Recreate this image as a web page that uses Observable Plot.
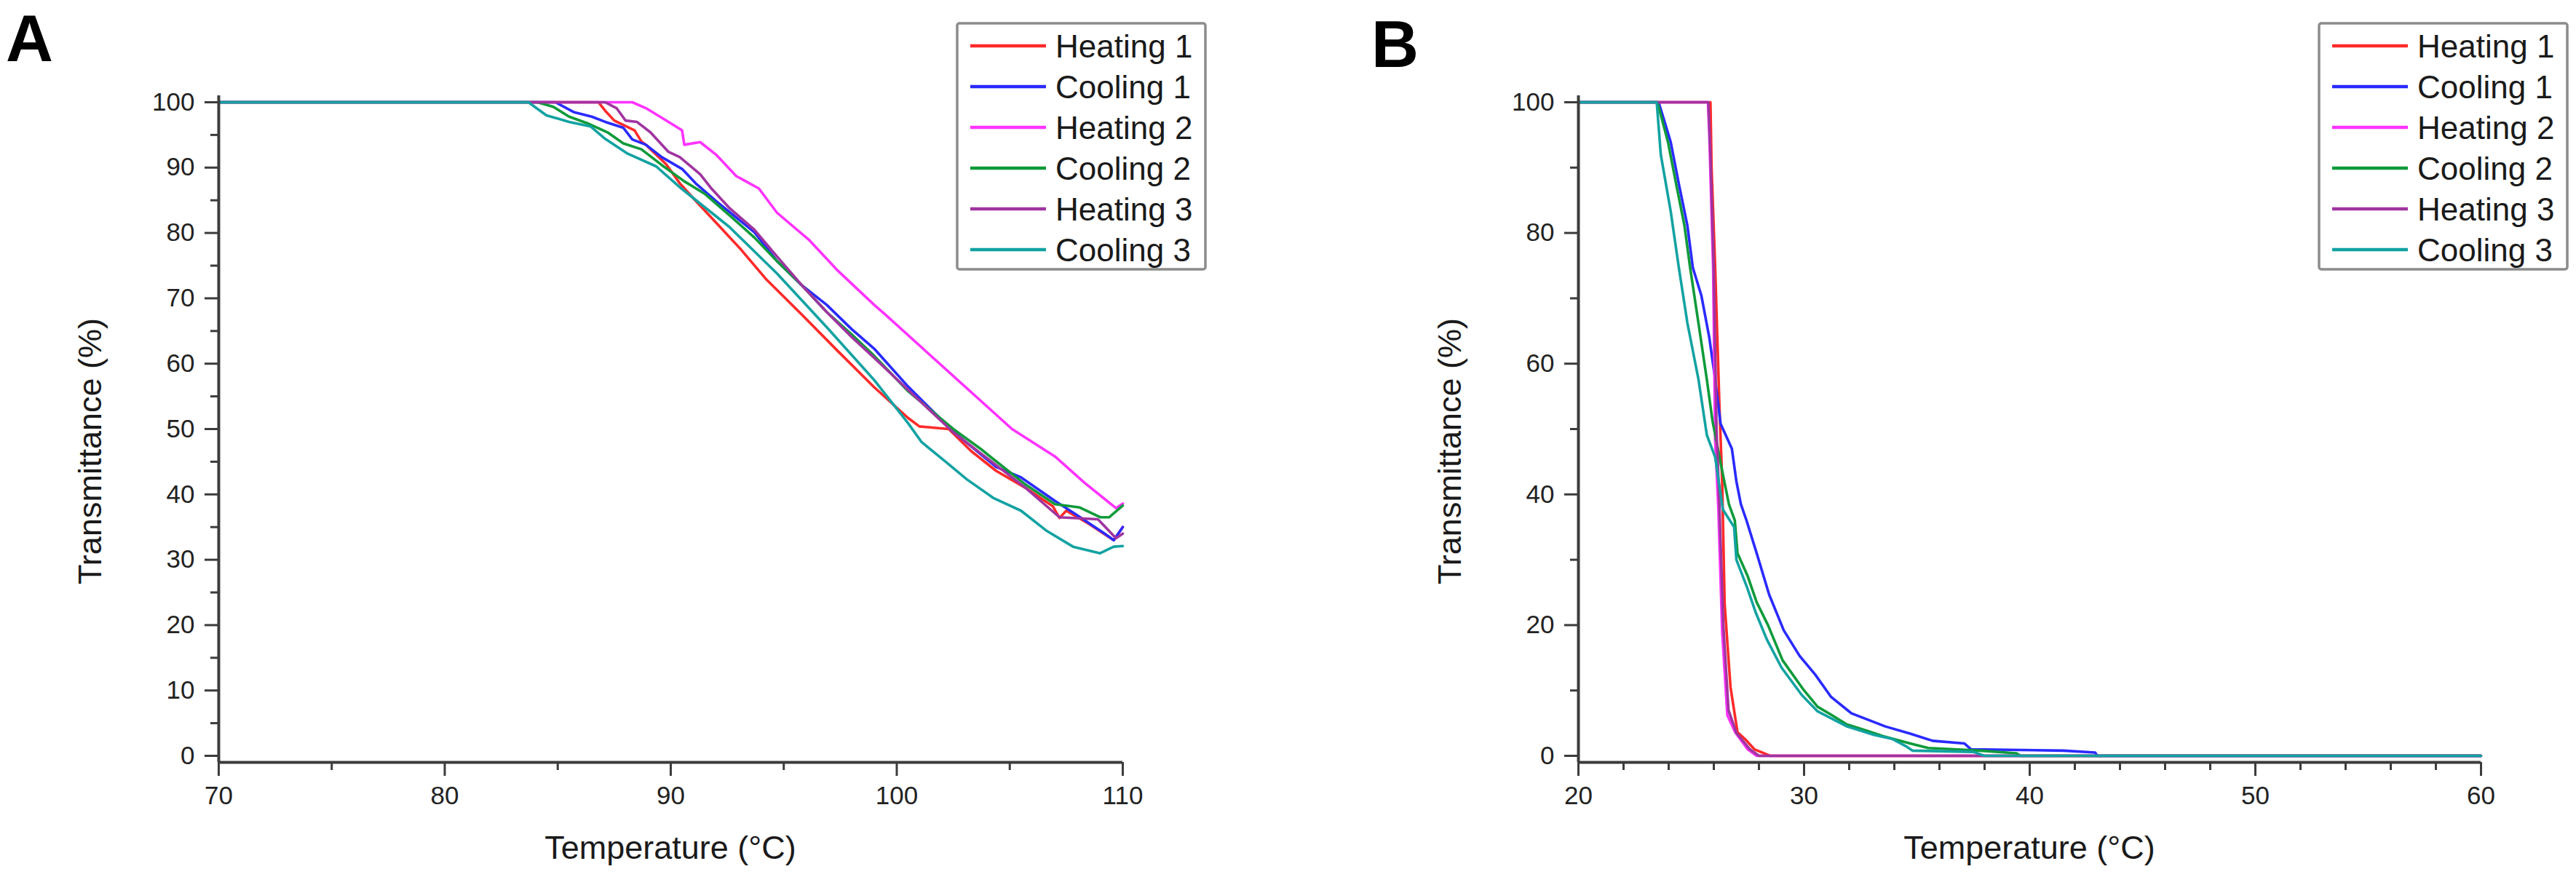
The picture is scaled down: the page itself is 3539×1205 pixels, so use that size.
<!DOCTYPE html>
<html><head><meta charset="utf-8">
<script src="https://cdn.jsdelivr.net/npm/d3@7"></script>
<script src="https://cdn.jsdelivr.net/npm/@observablehq/plot@0.6"></script>
<style>
html,body{margin:0;padding:0;background:#fff;}
#root{position:relative;width:3539px;height:1205px;overflow:hidden;background:#fff;font-family:"Liberation Sans",Arial,sans-serif;}
</style></head><body><div id="root"></div>
<script>
// ---- categories / styles of the series ----
const seriesNames = ["Heating 1", "Cooling 1", "Heating 2", "Cooling 2", "Heating 3", "Cooling 3"];
const seriesColors = ["#ff2a2a", "#2a2aff", "#ff33ff", "#0e9a3a", "#a034a0", "#13a2a2"];

// ---- Panel A: [temperature °C, transmittance %] ----
const A_heating1 = [[70,100],[86.8,100],[87.1,98.7],[87.5,97.2],[88.4,95.7],[88.7,94.0],[88.9,93.5],[89.8,90.5],[90.4,87.6],[91.0,85.3],[92.0,81.6],[93.1,77.5],[94.2,73.0],[95.8,67.5],[97.4,61.9],[99.0,56.4],[100.5,51.7],[101.0,50.4],[102.3,50.0],[103.3,46.6],[104.4,43.6],[105.7,41.0],[106.9,38.2],[107.2,36.4],[107.5,37.5],[108.5,35.5],[109.6,33.0],[110,35.0]];
const A_cooling1 = [[70,100],[84.9,100],[85.7,98.5],[86.5,97.8],[87.1,97.0],[87.9,96.1],[88.3,94.3],[88.9,93.5],[89.6,91.6],[90.5,89.8],[91.1,87.6],[92.0,84.9],[93.7,80.1],[94.7,75.7],[95.8,72.0],[96.9,69.0],[98.0,65.3],[99.0,62.3],[100.5,56.5],[102.5,49.6],[104.4,44.2],[105.5,42.6],[107.0,39.0],[107.9,37.0],[109.2,34.0],[109.6,33.0],[110,35.0]];
const A_heating2 = [[70,100],[88.3,100],[88.9,99.1],[89.9,97.0],[90.5,95.7],[90.6,93.5],[91.3,93.9],[92.0,92.0],[92.9,88.7],[93.9,86.8],[94.7,83.1],[96.1,79.0],[97.4,74.2],[99.0,69.0],[99.5,67.5],[101.8,60.3],[105.1,50.0],[107.0,45.8],[108.3,41.8],[109.7,37.9],[110,38.6]];
const A_cooling2 = [[70,100],[84.1,100],[84.8,99.3],[85.5,97.8],[86.3,96.8],[87.2,95.4],[87.9,93.7],[88.7,92.8],[89.6,90.4],[90.6,87.9],[91.5,86.0],[92.6,82.7],[93.7,79.3],[94.7,75.7],[95.8,72.0],[96.9,67.9],[98.0,64.5],[99.0,61.2],[100.5,55.8],[102.5,50.0],[103.7,47.0],[104.2,45.6],[105.7,41.5],[107.0,38.5],[108.1,38.0],[109.0,36.5],[109.4,36.5],[110,38.3]];
const A_heating3 = [[70,100],[87.1,100],[87.6,99.1],[88.0,97.2],[88.5,97.0],[89.1,95.4],[89.9,92.4],[90.4,91.6],[91.3,89.0],[91.8,86.8],[92.6,83.8],[93.7,80.5],[94.7,76.4],[95.8,72.0],[96.9,67.9],[98.0,64.1],[99.0,60.9],[100.5,56.0],[102.5,49.5],[104.2,45.0],[105.7,41.0],[107.2,36.5],[108.9,36.2],[109.7,33.3],[110,34.0]];
const A_cooling3 = [[70,100],[83.7,100],[84.5,98.0],[85.5,97.0],[86.45,96.3],[87.1,94.4],[88.06,92.2],[89.35,90.2],[90.4,87.0],[92.6,80.9],[94.7,73.8],[96.9,65.6],[99.0,57.5],[100.5,50.9],[101.1,48.0],[102.2,44.9],[103.1,42.3],[104.3,39.4],[105.5,37.5],[106.6,34.5],[107.8,32.0],[109.0,31.0],[109.6,32.0],[110,32.1]];

// ---- Panel B: [temperature °C, transmittance %] ----
const B_heating1 = [[20,100],[25.85,100],[25.9,90],[26.06,74.7],[26.25,53.4],[26.37,42],[26.48,23.2],[26.74,10.5],[27.05,3.6],[27.4,2.5],[27.8,1.0],[28.5,0],[60,0]];
const B_cooling1 = [[20,100],[23.55,100],[23.6,99.5],[24.09,93.9],[24.45,87.5],[24.83,81.1],[25.07,74.7],[25.45,70.4],[25.8,64],[26.06,57.6],[26.3,50.8],[26.8,47],[27.0,42],[27.2,38.5],[27.45,36],[27.9,31],[28.45,24.7],[29.1,19.2],[29.8,15.3],[30.5,12.4],[31.2,9],[32.1,6.5],[33.6,4.5],[34.7,3.4],[35.7,2.3],[37.1,1.9],[37.4,1],[41.5,0.8],[42.9,0.5],[43.0,0],[60,0]];
const B_heating2 = [[20,100],[25.74,100],[25.8,95],[25.97,74.7],[26.06,48.2],[26.2,38],[26.37,19],[26.6,6.2],[26.95,3.6],[27.5,1],[27.9,0],[60,0]];
const B_cooling2 = [[20,100],[23.5,100],[23.97,93.9],[24.33,87.5],[24.7,81.1],[24.95,74.7],[25.32,66.2],[25.69,57.6],[25.94,51.3],[26.3,44.8],[26.67,38.5],[26.93,36],[27.05,31],[27.5,27.5],[27.9,23.5],[28.4,20],[29.05,14.6],[30.0,10],[30.6,7.5],[31.2,6.3],[31.9,4.8],[32.9,3.7],[33.5,3],[34.7,1.9],[35.5,1.2],[37.8,0.8],[39.4,0.4],[39.6,0],[60,0]];
const B_heating3 = [[20,100],[25.76,100],[25.85,92],[26.0,74],[26.12,50],[26.25,38],[26.42,20],[26.65,7],[27.0,3.5],[27.6,1],[28.0,0],[60,0]];
const B_cooling3 = [[20,100],[23.47,100],[23.65,92],[24.09,83.3],[24.45,74.7],[24.83,66.2],[25.32,57.6],[25.69,49.1],[26.06,45.7],[26.4,37.7],[26.9,35],[27.0,30],[27.45,26],[27.85,22],[28.35,17.8],[29.0,13.5],[29.9,9.3],[30.6,6.8],[31.9,4.5],[33.1,3.2],[33.9,2.6],[34.5,1.5],[34.8,0.8],[37.5,0.6],[38.0,0],[60,0]];

// ---- ticks ----
const A_xMajor = [70, 80, 90, 100, 110];
const A_xMinor = [75, 85, 95, 105];
const A_yMajor = [0, 10, 20, 30, 40, 50, 60, 70, 80, 90, 100];
const A_yMinor = [5, 15, 25, 35, 45, 55, 65, 75, 85, 95];
const B_xMajor = [20, 30, 40, 50, 60];
const B_xMinor = [22, 24, 26, 28, 32, 34, 36, 38, 42, 44, 46, 48, 52, 54, 56, 58];
const B_yMajor = [0, 20, 40, 60, 80, 100];
const B_yMinor = [10, 30, 50, 70, 90];

const xTitle = "Temperature (°C)";
const yTitle = "Transmittance (%)";
const FONT = "'Liberation Sans', Arial, Helvetica, sans-serif";
const AXIS = "#3c3c3c";

function panel(cfg) {
  const rows = [];
  cfg.series.forEach((pts, i) => pts.forEach(([T, v]) => rows.push({name: seriesNames[i], T, v})));
  const svg = Plot.plot({
    width: cfg.width, height: 1205,
    marginLeft: cfg.ml, marginRight: cfg.mr, marginTop: 131, marginBottom: 158,
    x: {domain: cfg.xDomain},
    y: {domain: [-1, 101]},
    color: {domain: seriesNames, range: seriesColors},
    style: {fontFamily: FONT, background: "transparent", overflow: "visible"},
    marks: [
      Plot.line(rows, {x: "T", y: "v", z: "name", stroke: "name", strokeWidth: 3.6}),
      Plot.axisX({ticks: cfg.xMinor, tickSize: 11, tickFormat: () => "", stroke: AXIS, strokeWidth: 3, label: null}),
      Plot.axisX({ticks: cfg.xMajor, tickSize: 19, tickPadding: 14, fontSize: 35, fill: "#222", stroke: AXIS, strokeWidth: 3, label: null}),
      Plot.axisY({ticks: cfg.yMinor, tickSize: 11, tickFormat: () => "", stroke: AXIS, strokeWidth: 3, label: null}),
      Plot.axisY({ticks: cfg.yMajor, tickSize: 19, tickPadding: 14, fontSize: 35, fill: "#222", stroke: AXIS, strokeWidth: 3, label: null}),
      Plot.ruleY([-1], {stroke: AXIS, strokeWidth: 4}),
      Plot.ruleX([cfg.xDomain[0]], {stroke: AXIS, strokeWidth: 4})
    ]
  });
  svg.style.position = "absolute";
  svg.style.left = cfg.left + "px";
  svg.style.top = "0px";
  return svg;
}

const root = document.getElementById("root");
root.appendChild(panel({left: 0, width: 1770, ml: 300, mr: 228, xDomain: [70, 110],
  series: [A_heating1, A_cooling1, A_heating2, A_cooling2, A_heating3, A_cooling3],
  xMajor: A_xMajor, xMinor: A_xMinor, yMajor: A_yMajor, yMinor: A_yMinor}));
root.appendChild(panel({left: 1770, width: 1769, ml: 398, mr: 131, xDomain: [20, 60],
  series: [B_heating1, B_cooling1, B_heating2, B_cooling2, B_heating3, B_cooling3],
  xMajor: B_xMajor, xMinor: B_xMinor, yMajor: B_yMajor, yMinor: B_yMinor}));

// ---- overlay: panel letters, axis titles, legends ----
const ov = d3.select(root).append("svg")
  .attr("width", 3539).attr("height", 1205)
  .style("position", "absolute").style("left", "0px").style("top", "0px")
  .style("font-family", FONT);

ov.append("text").attr("x", 8).attr("y", 84).attr("font-size", 90).attr("font-weight", "bold").attr("fill", "#000").text("A");
ov.append("text").attr("x", 1884).attr("y", 92).attr("font-size", 90).attr("font-weight", "bold").attr("fill", "#000").text("B");

[[921, 139], [2788, 2007]].forEach(([cx, yx]) => {
  ov.append("text").attr("x", cx).attr("y", 1180).attr("text-anchor", "middle").attr("font-size", 45).attr("fill", "#1a1a1a").text(xTitle);
  ov.append("text").attr("x", yx).attr("y", 620).attr("transform", `rotate(-90,${yx},620)`).attr("text-anchor", "middle").attr("font-size", 45).attr("fill", "#1a1a1a").text(yTitle);
});

function legend(x0, y0) {
  const g = ov.append("g");
  g.append("rect").attr("x", x0).attr("y", y0).attr("width", 341).attr("height", 338).attr("rx", 3)
    .attr("fill", "#fff").attr("stroke", "#8c8c8c").attr("stroke-width", 3.5);
  seriesNames.forEach((name, i) => {
    const cy = y0 + 31 + i * 56;
    g.append("line").attr("x1", x0 + 18).attr("x2", x0 + 122).attr("y1", cy).attr("y2", cy)
      .attr("stroke", seriesColors[i]).attr("stroke-width", 4.5);
    g.append("text").attr("x", x0 + 135).attr("y", cy + 16).attr("font-size", 44).attr("fill", "#1a1a1a").text(name);
  });
}
legend(1315, 32);
legend(3186, 32);
</script></body></html>
